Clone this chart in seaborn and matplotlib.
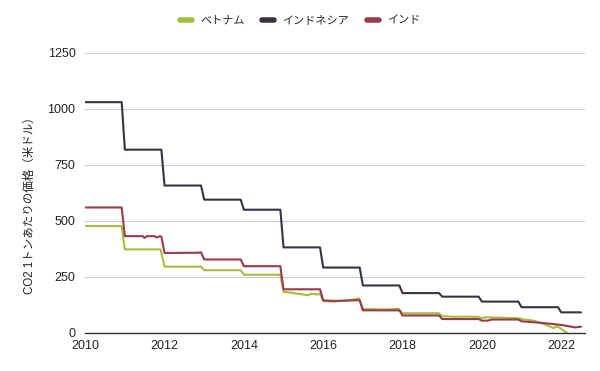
import matplotlib
matplotlib.use("Agg")
import matplotlib.pyplot as plt
import seaborn as sns
import pandas as pd
from matplotlib.lines import Line2D

# ---- data (decimal years, US$ per tonne CO2) ----
series_names = ["ベトナム", "インドネシア", "インド"]

vietnam_x = [2010.0, 2010.92, 2011.0, 2011.9, 2012.0, 2012.92, 2013.0, 2013.92, 2014.0, 2014.92,
             2015.0, 2015.2, 2015.35, 2015.5, 2015.6, 2015.7, 2015.85, 2015.92, 2016.0, 2016.2,
             2016.4, 2016.6, 2016.8, 2016.9, 2017.0, 2017.3, 2017.6, 2017.9, 2018.0, 2018.92,
             2019.0, 2019.3, 2019.6, 2019.92, 2020.0, 2020.1, 2020.5, 2020.92, 2021.0, 2021.3,
             2021.5, 2021.7, 2021.8, 2021.9, 2022.0, 2022.15]
vietnam_y = [477, 477, 373, 373, 296, 296, 280, 280, 260, 260,
             183, 180, 175, 172, 168, 175, 172, 175, 143, 140,
             142, 145, 150, 155, 107, 106, 105, 108, 88, 88,
             75, 72, 73, 72, 66, 70, 68, 66, 62, 55,
             44, 30, 22, 30, 18, 0]

indonesia_x = [2010.0, 2010.92, 2011.0, 2011.92, 2012.0, 2012.92, 2013.0, 2013.92, 2014.0, 2014.92,
               2015.0, 2015.92, 2016.0, 2016.92, 2017.0, 2017.92, 2018.0, 2018.92, 2019.0, 2019.92,
               2020.0, 2020.92, 2021.0, 2021.92, 2022.0, 2022.5]
indonesia_y = [1030, 1030, 818, 818, 658, 658, 595, 595, 550, 550,
               382, 382, 292, 292, 212, 212, 178, 178, 162, 162,
               140, 140, 115, 115, 92, 92]

india_x = [2010.0, 2010.92, 2011.0, 2011.45, 2011.5, 2011.55, 2011.75, 2011.8, 2011.88, 2011.92,
           2012.0, 2012.85, 2012.92, 2013.0, 2013.92, 2014.0, 2014.92, 2015.0, 2015.92, 2016.0,
           2016.3, 2016.85, 2016.92, 2017.0, 2017.92, 2018.0, 2018.92, 2019.0, 2019.92, 2020.0,
           2020.15, 2020.25, 2020.92, 2021.0, 2021.5, 2022.0, 2022.35, 2022.5]
india_y = [560, 560, 432, 432, 424, 432, 432, 426, 432, 430,
           357, 358, 360, 328, 328, 298, 298, 195, 195, 145,
           143, 146, 146, 101, 101, 78, 78, 62, 62, 55,
           55, 60, 60, 52, 45, 36, 25, 28]

colors = ["#a3bf3a", "#3b3140", "#9a3a4c"]
ytick_vals = [0, 250, 500, 750, 1000, 1250]
xtick_vals = [2010, 2012, 2014, 2016, 2018, 2020, 2022]

df = pd.concat([
    pd.DataFrame({"year": vietnam_x, "price": vietnam_y, "country": series_names[0]}),
    pd.DataFrame({"year": indonesia_x, "price": indonesia_y, "country": series_names[1]}),
    pd.DataFrame({"year": india_x, "price": india_y, "country": series_names[2]}),
])

sns.set_theme(style="white")
plt.rcParams["font.family"] = ["Liberation Sans", "Noto Sans CJK JP", "DejaVu Sans"]

fig = plt.figure(figsize=(6.0, 3.71), dpi=100)
ax = fig.add_axes([0.142, 0.1025, 0.833, 0.755])

sns.lineplot(data=df, x="year", y="price", hue="country", hue_order=series_names,
             palette=colors, linewidth=1.5, ax=ax, legend=False, estimator=None, sort=False)

ax.set_xlim(2010, 2022.6)
ax.set_ylim(0, 1250)
ax.set_yticks(ytick_vals)
ax.set_xticks(xtick_vals)
ax.set_yticklabels([str(v) for v in ytick_vals])
ax.set_xticklabels([str(v) for v in xtick_vals])
ax.yaxis.grid(True, color="#cccccc", linewidth=0.8)
ax.xaxis.grid(False)
for s in ["top", "right", "left"]:
    ax.spines[s].set_visible(False)
ax.spines["bottom"].set_color("#333333")
ax.spines["bottom"].set_linewidth(1.0)
ax.tick_params(axis="y", length=4, color="#cccccc", labelsize=9, labelcolor="#222222", pad=3)
ax.tick_params(axis="x", length=0, labelsize=9, labelcolor="#222222", pad=5)
ax.set_xlabel("")
ax.set_ylabel("CO2 1トンあたりの価格（米ドル）", fontsize=8.3, color="#222222")
ax.yaxis.set_label_coords(-0.098, 0.465)

handles = [Line2D([0], [0], color=c, linewidth=4) for c in colors]
fig.legend(handles, series_names, loc="center", bbox_to_anchor=(0.5, 0.945), ncol=3,
           frameon=False, fontsize=8, handlelength=1.1, columnspacing=1.6, handletextpad=0.7)

fig.savefig("out.png", dpi=100)
